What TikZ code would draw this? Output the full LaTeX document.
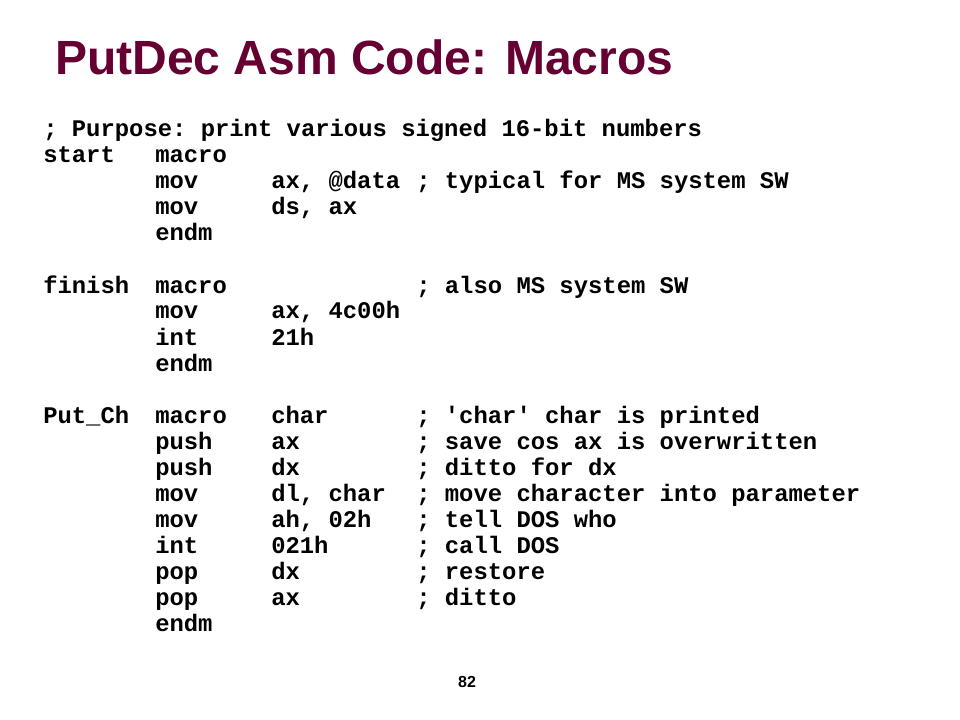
\documentclass[tikz,border=0pt]{standalone}
\usepackage{fontspec}
\setmainfont{Liberation Sans}
\setmonofont{Liberation Mono}
\usepackage{xcolor}
\definecolor{slidemaroon}{RGB}{102, 0, 51}

\begin{document}
\begin{tikzpicture}[x=0.75pt,y=-0.75pt,
  code/.style={anchor=base west, inner sep=0pt, font=\ttfamily\bfseries\fontsize{17.9}{20}\selectfont}]
\useasboundingbox[fill=white] (0,0) rectangle (960,720);

\node[anchor=base west, inner sep=0pt, text=slidemaroon, font=\bfseries\fontsize{36}{40}\selectfont] (title) at (55,75) {PutDec Asm Code: Macros};

% purpose and start
\node[code] (l0a) at (43,137) {; Purpose: print various signed 16-bit numbers};
\node[code] (l1a) at (43,163) {start};
\node[code] (l1b) at (155,163) {macro};
\node[code] (l2b) at (155,189) {mov};
\node[code] (l2c) at (271,189) {ax, @data};
\node[code] (l2d) at (416,189) {; typical for MS system SW};
\node[code] (l3b) at (155,215) {mov};
\node[code] (l3c) at (271,215) {ds, ax};
\node[code] (l4b) at (155,241) {endm};

% finish
\node[code] (l6a) at (43,293) {finish};
\node[code] (l6b) at (155,293) {macro};
\node[code] (l6d) at (416,293) {; also MS system SW};
\node[code] (l7b) at (155,319) {mov};
\node[code] (l7c) at (271,319) {ax, 4c00h};
\node[code] (l8b) at (155,345) {int};
\node[code] (l8c) at (271,345) {21h};
\node[code] (l9b) at (155,371) {endm};

% Put_Ch
\node[code] (l11a) at (43,423) {Put\_Ch};
\node[code] (l11b) at (155,423) {macro};
\node[code] (l11c) at (271,423) {char};
\node[code] (l11d) at (416,423) {; 'char' char is printed};
\node[code] (l12b) at (155,449) {push};
\node[code] (l12c) at (271,449) {ax};
\node[code] (l12d) at (416,449) {; save cos ax is overwritten};
\node[code] (l13b) at (155,475) {push};
\node[code] (l13c) at (271,475) {dx};
\node[code] (l13d) at (416,475) {; ditto for dx};
\node[code] (l14b) at (155,501) {mov};
\node[code] (l14c) at (271,501) {dl, char};
\node[code] (l14d) at (416,501) {; move character into parameter};
\node[code] (l15b) at (155,527) {mov};
\node[code] (l15c) at (271,527) {ah, 02h};
\node[code] (l15d) at (416,527) {; tell DOS who};
\node[code] (l16b) at (155,553) {int};
\node[code] (l16c) at (271,553) {021h};
\node[code] (l16d) at (416,553) {; call DOS};
\node[code] (l17b) at (155,579) {pop};
\node[code] (l17c) at (271,579) {dx};
\node[code] (l17d) at (416,579) {; restore};
\node[code] (l18b) at (155,605) {pop};
\node[code] (l18c) at (271,605) {ax};
\node[code] (l18d) at (416,605) {; ditto};
\node[code] (l19b) at (155,631) {endm};

\node[anchor=base, inner sep=0pt, font=\bfseries\fontsize{12}{14}\selectfont] (pagenum) at (467,687) {82};
\end{tikzpicture}
\end{document}
